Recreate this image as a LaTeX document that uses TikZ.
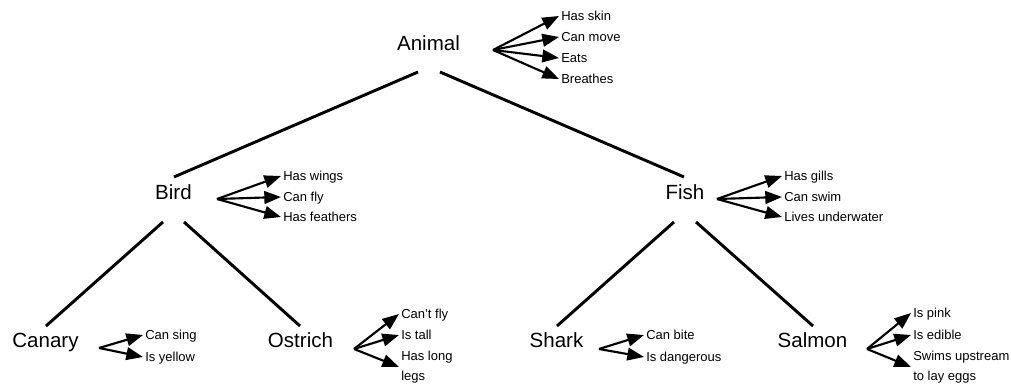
\documentclass[tikz,border=0pt]{standalone}
\usepackage{fontspec}
\setmainfont{Liberation Sans}
\usetikzlibrary{arrows.meta}

\begin{document}
\begin{tikzpicture}[x=0.75pt, y=-0.75pt,
        concept/.style={font=\fontsize{15.4}{18}\selectfont, inner sep=0pt, text height=1.5ex, text depth=.25ex},
        prop/.style={anchor=west, font=\fontsize{9.75}{15}\selectfont, inner sep=1.5pt, text height=1.5ex, text depth=.25ex},
        longprop/.style={anchor=west, font=\fontsize{9.75}{15}\selectfont, inner sep=1.5pt, align=left},
        branch/.style={line width=2.2pt},
        has/.style={line width=1.6pt, -{Triangle[length=12.5pt, width=9.5pt]}}]
        \useasboundingbox (0,0) rectangle (1011,384);

        % Concepts
        \node[concept] (animal) at (428.5,46) {Animal};
        \node[concept] (bird) at (173.5,195) {Bird};
        \node[concept] (fish) at (685,195) {Fish};
        \node[concept] (canary) at (45.5,343) {Canary};
        \node[concept] (ostrich) at (300.5,343) {Ostrich};
        \node[concept] (shark) at (556.5,343) {Shark};
        \node[concept] (salmon) at (812.5,343) {Salmon};

        % Hierarchy
        \draw[branch] ([shift={(-10.5,26)}]animal.center) -- ([shift={(0.5,-18)}]bird.center);
        \draw[branch] ([shift={(11.5,26)}]animal.center) -- ([shift={(-1,-18)}]fish.center);
        \draw[branch] ([shift={(-10.5,27)}]bird.center) -- ([shift={(0.5,-17)}]canary.center);
        \draw[branch] ([shift={(10.5,27)}]bird.center) -- ([shift={(-0.5,-17)}]ostrich.center);
        \draw[branch] ([shift={(-11,27)}]fish.center) -- ([shift={(0.5,-17)}]shark.center);
        \draw[branch] ([shift={(11,27)}]fish.center) -- ([shift={(0.5,-17)}]salmon.center);

        % Animal
        \coordinate (animal-src) at (493,50);
        \node[prop] (skin) at (559,16) {Has skin};
        \node[prop] (move) at (559,37) {Can move};
        \node[prop] (eats) at (559,58) {Eats};
        \node[prop] (breathes) at (559,79) {Breathes};
        \draw[has] (animal-src) -- (skin.west);
        \draw[has] (animal-src) -- (move.west);
        \draw[has] (animal-src) -- (eats.west);
        \draw[has] (animal-src) -- (breathes.west);

        % Bird
        \coordinate (bird-src) at (217,199);
        \node[prop] (wings) at (281,176) {Has wings};
        \node[prop] (fly) at (281,197) {Can fly};
        \node[prop] (feathers) at (281,217) {Has feathers};
        \draw[has] (bird-src) -- (wings.west);
        \draw[has] (bird-src) -- (fly.west);
        \draw[has] (bird-src) -- (feathers.west);

        % Fish
        \coordinate (fish-src) at (717,199);
        \node[prop] (gills) at (782,176) {Has gills};
        \node[prop] (swim) at (782,197) {Can swim};
        \node[prop] (underwater) at (782,217) {Lives underwater};
        \draw[has] (fish-src) -- (gills.west);
        \draw[has] (fish-src) -- (swim.west);
        \draw[has] (fish-src) -- (underwater.west);

        % Canary
        \coordinate (canary-src) at (99,348);
        \node[prop] (sing) at (143,335) {Can sing};
        \node[prop] (yellow) at (143,357) {Is yellow};
        \draw[has] (canary-src) -- (sing.west);
        \draw[has] (canary-src) -- (yellow.west);

        % Ostrich
        \coordinate (ostrich-src) at (354,349);
        \node[prop] (cantfly) at (399,314) {Can't fly};
        \node[prop] (tall) at (399,335) {Is tall};
        \node[longprop] (legs) at (399,367) {Has long\\legs};
        \draw[has] (ostrich-src) -- (cantfly.west);
        \draw[has] (ostrich-src) -- (tall.west);
        \draw[has] (ostrich-src) -- (legs.west);

        % Shark
        \coordinate (shark-src) at (599,349);
        \node[prop] (bite) at (644,335) {Can bite};
        \node[prop] (dangerous) at (644,357) {Is dangerous};
        \draw[has] (shark-src) -- (bite.west);
        \draw[has] (shark-src) -- (dangerous.west);

        % Salmon
        \coordinate (salmon-src) at (867,349);
        \node[prop] (pink) at (911,313) {Is pink};
        \node[prop] (edible) at (911,335) {Is edible};
        \node[longprop] (upstream) at (911,367) {Swims upstream\\to lay eggs};
        \draw[has] (salmon-src) -- (pink.west);
        \draw[has] (salmon-src) -- (edible.west);
        \draw[has] (salmon-src) -- (upstream.west);
    \end{tikzpicture}
\end{document}
